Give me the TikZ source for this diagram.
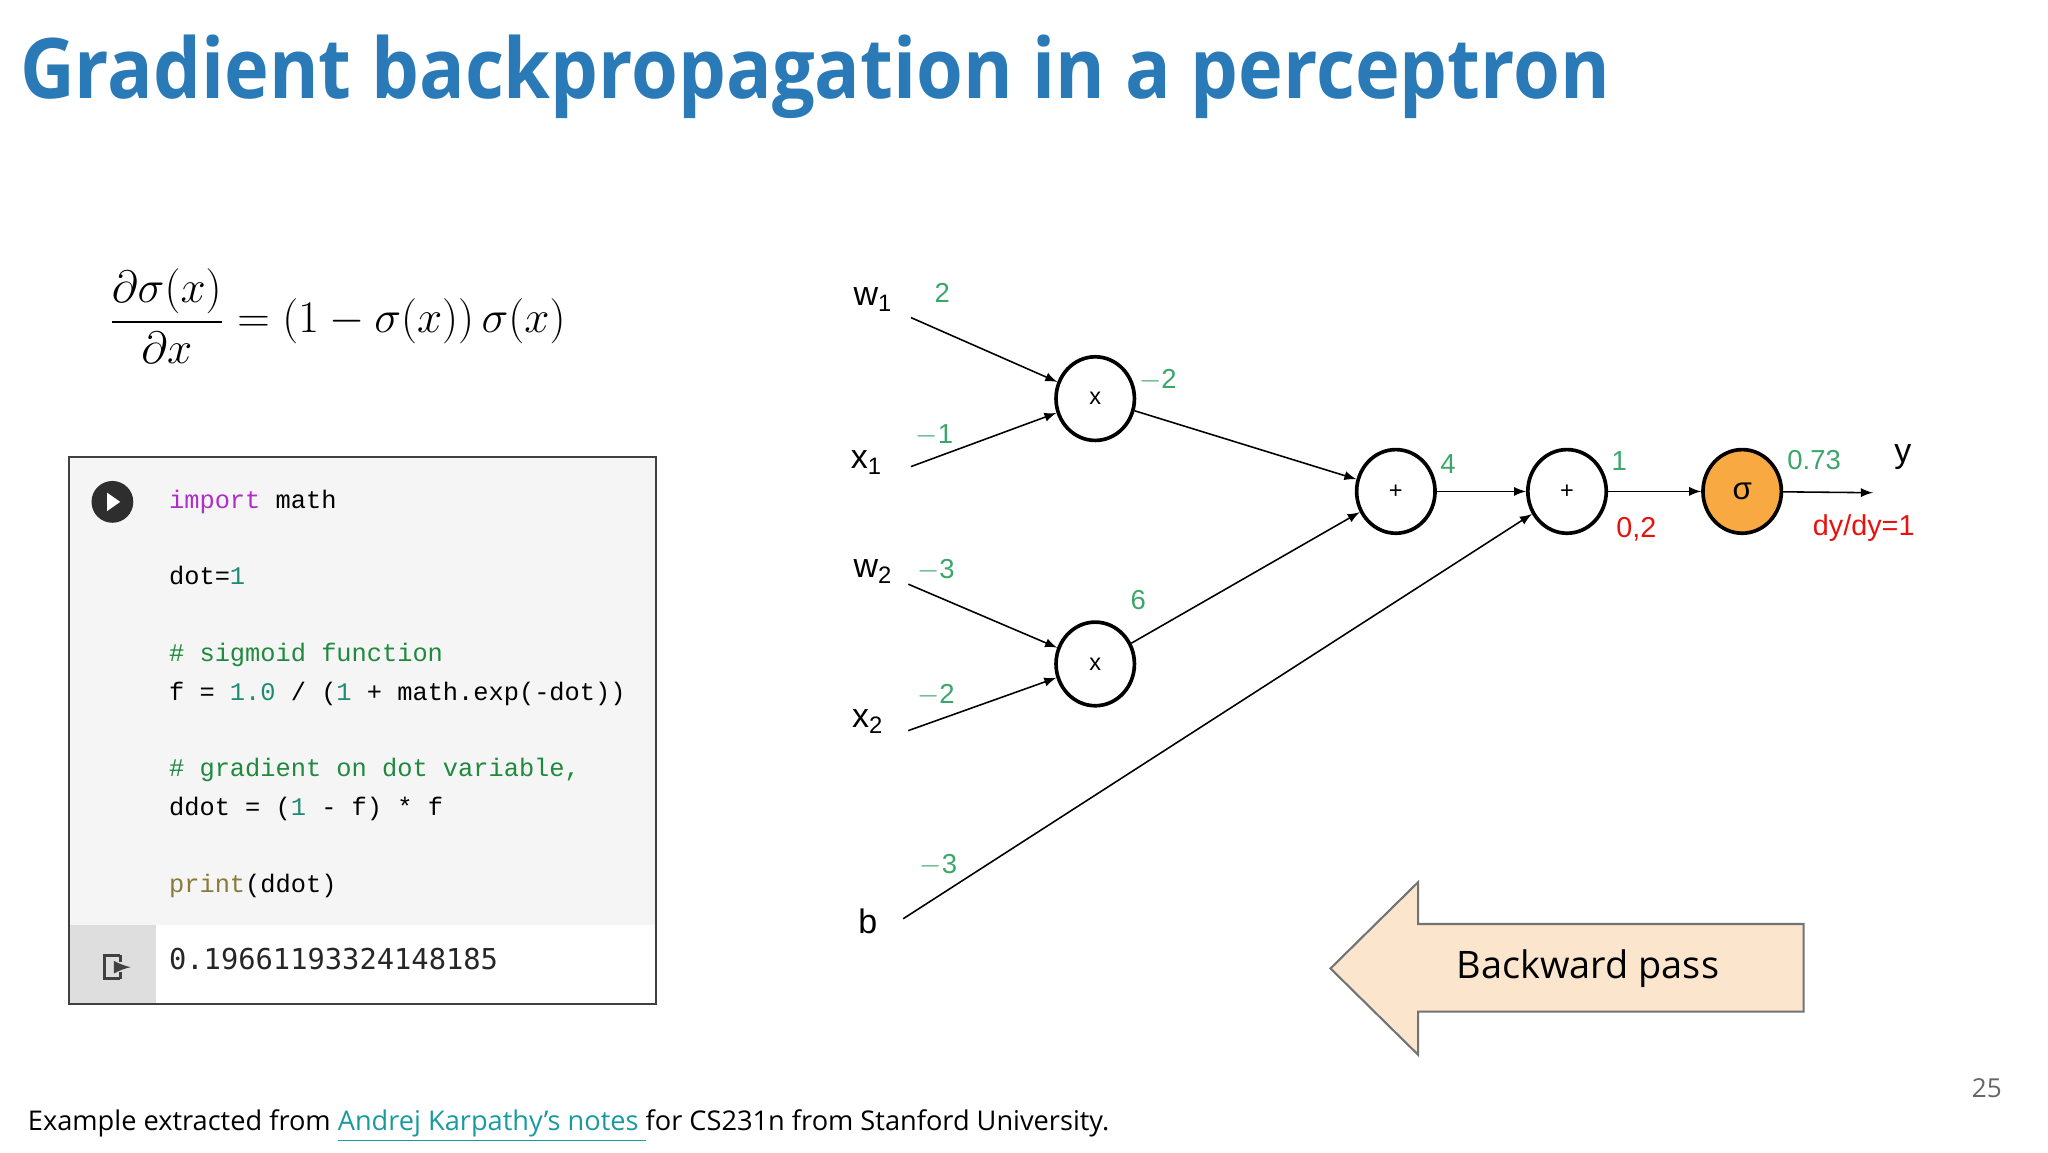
\documentclass[tikz,border=0pt]{standalone}
\usepackage{fontspec}
\setmainfont{Open Sans}
\newfontfamily\lsans{Liberation Sans}
\newfontfamily\lmono{Liberation Mono}
\newfontfamily\dmono{DejaVu Sans Mono}
\usepackage{amsmath}
\usetikzlibrary{shapes.geometric}
\definecolor{ttl}{HTML}{2A7AB8}
\definecolor{grn}{HTML}{3AA66A}
\definecolor{rd}{HTML}{E8120C}
\definecolor{org}{HTML}{F9A942}
\definecolor{pch}{HTML}{FCE5CD}
\definecolor{lnk}{HTML}{1A9AA0}
\definecolor{kw}{HTML}{B02DC8}
\definecolor{cm}{HTML}{1F8A3E}
\definecolor{nm}{HTML}{1E8C74}
\definecolor{pr}{HTML}{8A7A3A}
\begin{document}
\begin{tikzpicture}[x=0.5pt,y=-0.5pt,
  op/.style={draw,line width=1.4pt,ellipse,minimum width=30pt,minimum height=32pt,inner sep=0pt,font=\lsans\fontsize{9}{10}\selectfont},
  var/.style={font=\lsans\fontsize{13}{14}\selectfont,inner sep=1pt},
  gl/.style={text=grn,font=\lsans\fontsize{10.5}{12}\selectfont,inner sep=0pt},
  rl/.style={text=rd,font=\lsans\fontsize{11}{12}\selectfont,inner sep=0pt},
  ed/.style={-latex,line width=0.6pt},
  code/.style={anchor=base west,inner sep=0pt,font=\lmono\fontsize{9.7}{11}\selectfont}]
\useasboundingbox (0,0) rectangle (1567,881.5);
\node[anchor=base west,inner sep=0pt,text=ttl,font=\bfseries\fontsize{32}{36}\selectfont,xscale=0.905] (title) at (15,75) {Gradient backpropagation in a perceptron};
\node (formula) at (258,242) {\fontsize{16}{20}\selectfont$\dfrac{\partial\sigma(x)}{\partial x}=(1-\sigma(x))\,\sigma(x)$};
% code box
\path[fill=black!4] (53,350) rectangle (502,708);
\path[fill=white] (119,708) rectangle (502,768);
\path[fill=black!13] (53,708) rectangle (119,768);
\draw[black!75,line width=0.8pt] (53,350) rectangle (502,768);
\node[circle,fill=black!82,minimum size=16pt,inner sep=0pt] (play) at (86,384) {};
\path[fill=white] (82,377) -- (92,384) -- (82,391) -- cycle;
\node[code] (c1) at (129,389) {\textcolor{kw}{import} math};
\node[code] (c2) at (129,447) {dot=\textcolor{nm}{1}};
\node[code] (c3) at (129,506) {\textcolor{cm}{\# sigmoid function}};
\node[code] (c4) at (129,536) {f = \textcolor{nm}{1.0} / (\textcolor{nm}{1} + math.exp(-dot))};
\node[code] (c5) at (129,594) {\textcolor{cm}{\# gradient on dot variable,}};
\node[code] (c6) at (129,624) {ddot = (\textcolor{nm}{1} - f) * f};
\node[code] (c7) at (129,683) {\textcolor{pr}{print}(ddot)};
\node[code,font=\dmono\fontsize{11}{12}\selectfont,text=black!85] (out) at (129,742) {0.19661193324148185};
\draw[black!75,line width=1.2pt] (92,731) -- (80,731) -- (80,749) -- (92,749) (92,731) -- (92,736) (92,744) -- (92,749);
\draw[black!75,line width=1.2pt,-latex] (88,740) -- (100,740);
% graph
\node[var] (w1) at (668,229) {w\textsubscript{1}};
\node[var] (x1) at (663,354) {x\textsubscript{1}};
\node[var] (w2) at (668,437) {w\textsubscript{2}};
\node[var] (x2) at (664,552) {x\textsubscript{2}};
\node[var] (b) at (664,705) {b};
\node[var] (y) at (1456,350) {y};
\coordinate (w1e) at (697,243);
\coordinate (x1e) at (697,357);
\coordinate (w2e) at (695,447);
\coordinate (x2e) at (695,559);
\coordinate (be) at (691,703);
\coordinate (ye) at (1433,377);
\node[op] (m1) at (838,305) {x};
\node[op] (m2) at (838,508) {x};
\node[op] (p1) at (1068,376) {+};
\node[op] (p2) at (1199,376) {+};
\node[op,fill=org,font=\lsans\fontsize{12}{12}\selectfont] (sg) at (1333,376) {σ};
\draw[ed] (w1e) -- (m1);
\draw[ed] (x1e) -- (m1);
\draw[ed] (w2e) -- (m2);
\draw[ed] (x2e) -- (m2);
\draw[ed] (m1) -- (p1);
\draw[ed] (m2) -- (p1);
\draw[ed] (be) -- (p2);
\draw[ed] (p1) -- (p2);
\draw[ed] (p2) -- (sg);
\draw[ed] (sg) -- (ye);
\node[gl] (g1) at (721,224) {2};
\node[gl] (g2) at (715,333) {$-$1};
\node[gl] (g3) at (886,291) {$-$2};
\node[gl] (g4) at (716,436) {$-$3};
\node[gl] (g5) at (871,459) {6};
\node[gl] (g6) at (716,532) {$-$2};
\node[gl] (g7) at (718,662) {$-$3};
\node[gl] (g8) at (1108,355) {4};
\node[gl] (g9) at (1239,353) {1};
\node[gl] (g10) at (1388,352) {0.73};
\node[rl] (r1) at (1252,405) {0,2};
\node[rl] (r2) at (1426,404) {dy/dy=1};
% backward arrow
\draw[black!55,fill=pch,line width=0.8pt] (1018,741) -- (1085,675) -- (1085,707) -- (1380,707) -- (1380,774) -- (1085,774) -- (1085,807) -- cycle;
\node[font=\fontsize{14.5}{16}\selectfont] (bp) at (1215,741) {Backward pass};
% footer
\node[anchor=base west,inner sep=0pt,font=\fontsize{10.4}{12}\selectfont] (foot) at (21,865) {Example extracted from \textcolor{lnk}{\underline{Andrej Karpathy’s notes }}for CS231n from Stanford University.};
\node[anchor=base east,inner sep=0pt,text=black!60,font=\fontsize{10}{12}\selectfont] (pg) at (1532,840) {25};
\end{tikzpicture}
\end{document}
